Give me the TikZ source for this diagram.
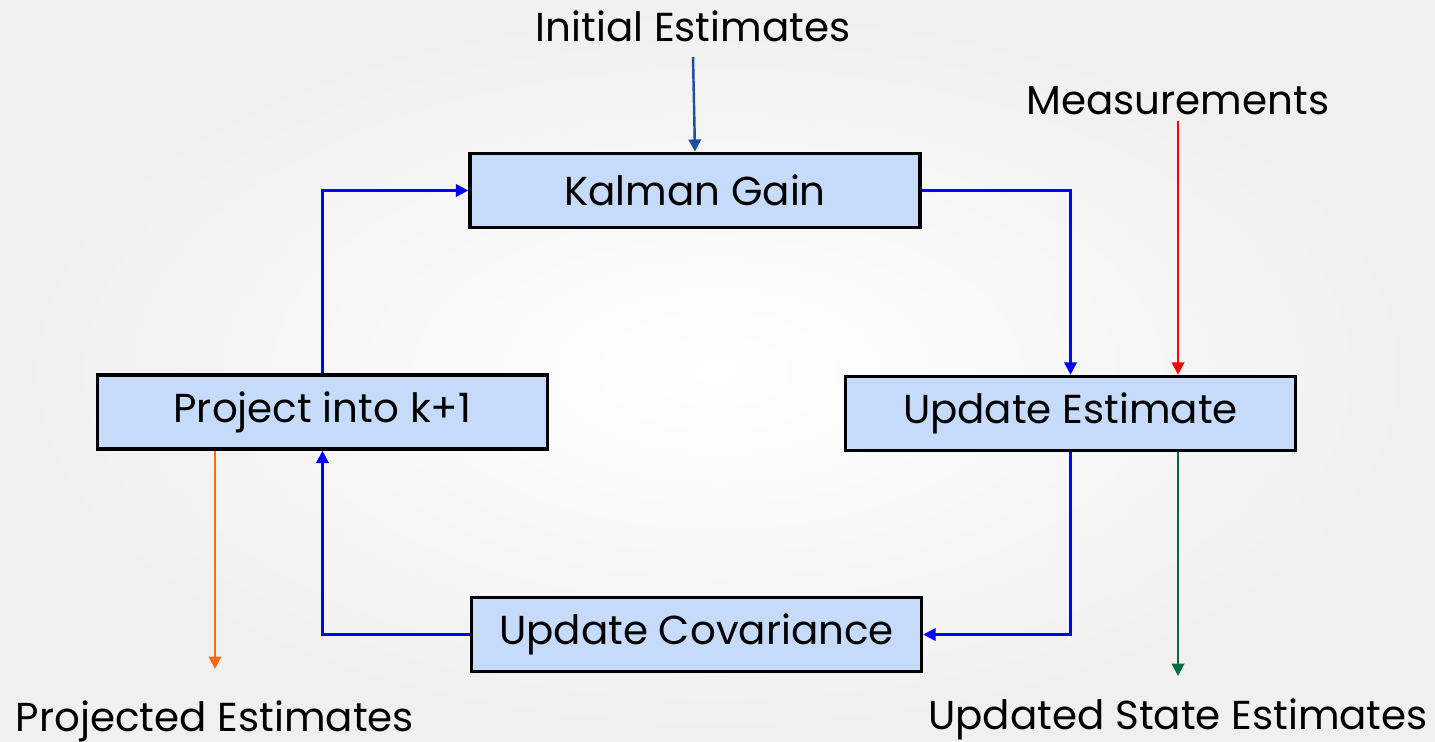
\documentclass[tikz,border=0pt]{standalone}
\usepackage{fontspec}
\setmainfont{Poppins}
\usepackage{tikz}
\usepackage{xcolor}
\usetikzlibrary{arrows.meta,calc,positioning}

\definecolor{boxfill}{HTML}{C6DAFA}
\definecolor{initblue}{HTML}{1F4FA0}
\definecolor{measred}{HTML}{FF0000}
\definecolor{outgreen}{HTML}{006E3B}
\definecolor{projorange}{HTML}{FF6A13}

\begin{document}
\begin{tikzpicture}[x=0.02cm,y=-0.02cm,
    font=\fontsize{23}{27}\selectfont,
    stage/.style={draw=black, line width=2pt, fill=boxfill,
      minimum width=9cm, minimum height=1.48cm, inner sep=0pt},
    label/.style={anchor=base, inner sep=0pt},
    flow/.style={blue, line width=1.4pt, -{Triangle[length=7pt,width=7pt]}}]

  % page with soft radial background
  \shade[inner color=white, outer color=black!6] (0,0) rectangle (1435,742);
  \useasboundingbox (0,0) rectangle (1435,742);

  % the four stages of the loop
  \node[stage] (gain) at (695,190.5) {Kalman Gain};
  \node[stage] (project) at (322.5,412) {Project into k+1};
  \node[stage] (update) at (1070.5,413.5) {Update Estimate};
  \node[stage] (cov) at (696.5,634.5) {Update Covariance};

  % inputs and outputs
  \node[label] (init) at (693,42) {Initial Estimates};
  \node[label] (meas) at (1178,115) {Measurements};
  \node[label] (projout) at (215,731) {Projected Estimates};
  \node[label] (stateout) at (1178,729) {Updated State Estimates};

  % free ends of the outer arrows
  \coordinate (initfoot) at (693,57);
  \coordinate (measfoot) at (1178,121);
  \coordinate (projend) at (215,669);
  \coordinate (stateend) at (1178,676);

  % the loop
  \draw[flow] (gain.east) -| (update.north);
  \draw[flow] (update.south) |- (cov.east);
  \draw[flow] (cov.west) -| (project.south);
  \draw[flow] (project.north) |- (gain.west);

  % arrows in and out
  \draw[flow, initblue] (initfoot) -- (gain.north);
  \draw[flow, measred] (measfoot) -- (measfoot |- update.north);
  \draw[flow, outgreen] (stateend |- update.south) -- (stateend);
  \draw[flow, projorange] (projend |- project.south) -- (projend);
\end{tikzpicture}
\end{document}
